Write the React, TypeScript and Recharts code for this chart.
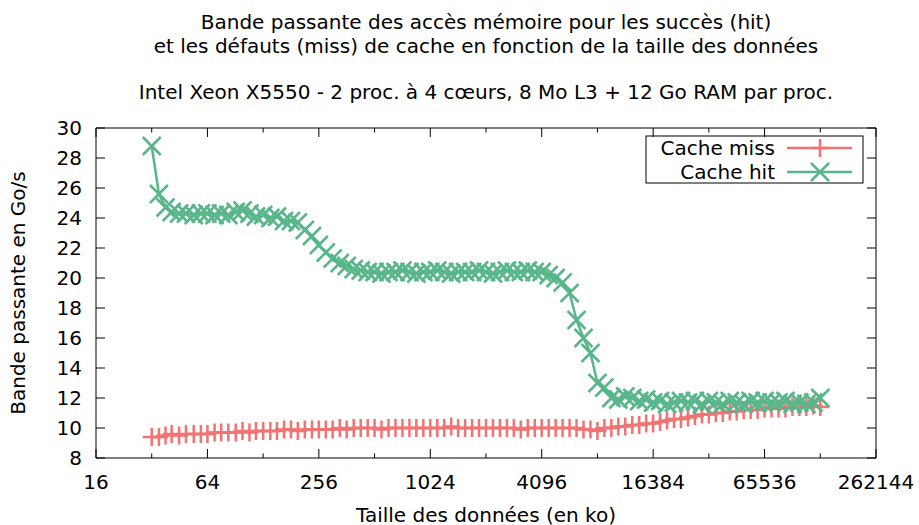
import React from 'react';
import { LineChart, Line, XAxis, YAxis } from 'recharts';

// taille des données en ko
const sizes = [
  32, 35, 38, 41, 45, 49, 54, 59,
  64, 70, 76, 83, 91, 99, 108, 117,
  128, 140, 152, 166, 181, 197, 215, 235,
  256, 279, 304, 332, 362, 395, 431, 470,
  512, 558, 609, 664, 724, 790, 861, 939,
  1024, 1117, 1218, 1328, 1448, 1579, 1722, 1878,
  2048, 2233, 2435, 2656, 2896, 3158, 3444, 3756,
  4096, 4467, 4871, 5312, 5793, 6317, 6889, 7512,
  8192, 8933, 9742, 10624, 11585, 12634, 13777, 15024,
  16384, 17867, 19484, 21247, 23170, 25268, 27554, 30048,
  32768, 35734, 38968, 42495, 46341, 50535, 55109, 60097,
  65536, 71468, 77936, 84990, 92682, 101070, 110218, 120194,
  131072,
];

// Go/s
const cacheHit = [
  28.8, 25.6, 24.7, 24.4, 24.3, 24.3, 24.2, 24.3,
  24.3, 24.2, 24.3, 24.2, 24.4, 24.5, 24.3, 24.1,
  24.2, 24.0, 24.1, 23.8, 23.8, 23.7, 23.2, 22.8,
  22.2, 21.7, 21.3, 21.0, 20.8, 20.6, 20.5, 20.4,
  20.4, 20.3, 20.4, 20.4, 20.5, 20.4, 20.3, 20.4,
  20.4, 20.5, 20.4, 20.3, 20.4, 20.4, 20.4, 20.5,
  20.4, 20.3, 20.4, 20.5, 20.4, 20.4, 20.5, 20.4,
  20.4, 20.2, 20.0, 19.7, 19.0, 17.2, 16.0, 15.0,
  13.0, 12.7, 12.0, 11.9, 12.1, 12.0, 11.8, 11.9,
  11.7, 11.8, 11.6, 11.7, 11.8, 11.7, 11.8, 11.6,
  11.8, 11.7, 11.6, 11.8, 11.7, 11.6, 11.8, 11.7,
  11.8, 11.7, 11.7, 11.8, 11.6, 11.7, 11.6, 11.7,
  12.0,
];

const cacheMiss = [
  9.4, 9.4, 9.5, 9.6, 9.5, 9.6, 9.6, 9.6,
  9.6, 9.7, 9.7, 9.7, 9.7, 9.8, 9.7, 9.8,
  9.8, 9.8, 9.8, 9.9, 9.9, 9.8, 9.9, 9.9,
  9.9, 9.9, 9.9, 10.0, 9.9, 10.0, 10.0, 10.0,
  10.0, 9.9, 10.0, 10.0, 10.0, 10.0, 10.0, 10.0,
  10.0, 10.0, 10.0, 10.1, 10.0, 10.0, 10.0, 10.0,
  10.0, 10.0, 10.0, 10.0, 10.0, 9.9, 10.0, 10.0,
  10.0, 10.0, 10.0, 10.0, 10.0, 10.0, 9.9, 9.9,
  9.8, 10.0, 10.0, 10.1, 10.1, 10.2, 10.2, 10.3,
  10.3, 10.4, 10.5, 10.6, 10.6, 10.7, 10.8, 10.9,
  10.9, 11.0, 11.0, 11.1, 11.1, 11.2, 11.2, 11.2,
  11.3, 11.3, 11.3, 11.3, 11.4, 11.4, 11.4, 11.5,
  11.4,
];

const xTicks = [16, 32, 64, 128, 256, 512, 1024, 2048, 4096, 8192, 16384, 32768, 65536, 131072, 262144];
const xLabels = [16, 64, 256, 1024, 4096, 16384, 65536, 262144];
const yTicks = [8, 10, 12, 14, 16, 18, 20, 22, 24, 26, 28, 30];

const data = sizes.map((s, i) => ({ size: s, hit: cacheHit[i], miss: cacheMiss[i] }));

const FONT = 'DejaVu Sans';
const FS = 20;
const RED = '#f07474';
const GREEN = '#57b68a';

const PlusDot = (p: any) => {
  if (p.cx == null || p.cy == null) return <g key={p.index} />;
  return (
    <path key={p.index} d={`M${p.cx - 9},${p.cy}h18M${p.cx},${p.cy - 9}v18`} stroke={RED} strokeWidth={2.5} fill="none" />
  );
};

const CrossDot = (p: any) => {
  if (p.cx == null || p.cy == null) return <g key={p.index} />;
  const d = 9;
  return (
    <path
      key={p.index}
      d={`M${p.cx - d},${p.cy - d}L${p.cx + d},${p.cy + d}M${p.cx - d},${p.cy + d}L${p.cx + d},${p.cy - d}`}
      stroke={GREEN}
      strokeWidth={2.5}
      fill="none"
    />
  );
};

const BottomTick = (p: any) => {
  const v = p.payload.value;
  const major = xLabels.includes(v);
  return (
    <g>
      <line x1={p.x} x2={p.x} y1={p.y} y2={p.y - (major ? 9 : 4.5)} stroke="#000" />
      {major && (
        <text x={p.x} y={p.y + 31} textAnchor="middle" fontFamily={FONT} fontSize={FS} fill="#000">
          {v}
        </text>
      )}
    </g>
  );
};

const TopTick = (p: any) => {
  const major = xLabels.includes(p.payload.value);
  return <line x1={p.x} x2={p.x} y1={p.y} y2={p.y + (major ? 9 : 4.5)} stroke="#000" />;
};

const LeftTick = (p: any) => (
  <g>
    <line x1={p.x} x2={p.x + 9} y1={p.y} y2={p.y} stroke="#000" />
    <text x={p.x - 14} y={p.y} dy="0.36em" textAnchor="end" fontFamily={FONT} fontSize={FS} fill="#000">
      {p.payload.value}
    </text>
  </g>
);

const RightTick = (p: any) => <line x1={p.x} x2={p.x - 9} y1={p.y} y2={p.y} stroke="#000" />;

const App = () => {
  return (
    <div style={{ position: 'absolute', left: 0, top: 0, width: 919, height: 525, background: '#fff' }}>
      <LineChart width={919} height={525} data={data} margin={{ top: 118, right: 33, bottom: 37, left: 36 }}>
        <XAxis
          xAxisId="b"
          dataKey="size"
          type="number"
          scale="log"
          domain={[16, 262144]}
          allowDataOverflow
          ticks={xTicks}
          interval={0}
          height={30}
          tickSize={0}
          tickMargin={0}
          tickLine={false}
          stroke="#000"
          tick={<BottomTick />}
        />
        <XAxis
          xAxisId="t"
          orientation="top"
          dataKey="size"
          type="number"
          scale="log"
          domain={[16, 262144]}
          allowDataOverflow
          ticks={xTicks}
          interval={0}
          height={10}
          tickSize={0}
          tickMargin={0}
          tickLine={false}
          stroke="#000"
          tick={<TopTick />}
        />
        <YAxis
          yAxisId="l"
          type="number"
          domain={[8, 30]}
          allowDataOverflow
          ticks={yTicks}
          interval={0}
          width={60}
          tickSize={0}
          tickMargin={0}
          tickLine={false}
          stroke="#000"
          tick={<LeftTick />}
        />
        <YAxis
          yAxisId="r"
          orientation="right"
          type="number"
          domain={[8, 30]}
          allowDataOverflow
          ticks={yTicks}
          interval={0}
          width={10}
          tickSize={0}
          tickMargin={0}
          tickLine={false}
          stroke="#000"
          tick={<RightTick />}
        />
        <Line
          xAxisId="b"
          yAxisId="l"
          type="linear"
          dataKey="miss"
          stroke={RED}
          strokeWidth={2.5}
          dot={PlusDot}
          activeDot={false}
          isAnimationActive={false}
        />
        <Line
          xAxisId="b"
          yAxisId="l"
          type="linear"
          dataKey="hit"
          stroke={GREEN}
          strokeWidth={2.5}
          dot={CrossDot}
          activeDot={false}
          isAnimationActive={false}
        />
      </LineChart>
      <svg
        width={919}
        height={525}
        style={{ position: 'absolute', left: 0, top: 0, pointerEvents: 'none' }}
        fontFamily={FONT}
        fontSize={FS}
      >
        <text x={486} y={29} textAnchor="middle">Bande passante des accès mémoire pour les succès (hit)</text>
        <text x={486} y={53} textAnchor="middle">et les défauts (miss) de cache en fonction de la taille des données</text>
        <text x={486} y={99} textAnchor="middle">Intel Xeon X5550 - 2 proc. à 4 cœurs, 8 Mo L3 + 12 Go RAM par proc.</text>
        <text transform="rotate(-90)" x={-293} y={25} textAnchor="middle">Bande passante en Go/s</text>
        <text x={486} y={522} textAnchor="middle">Taille des données (en ko)</text>
        <rect x={646} y={136} width={217} height={47} fill="none" stroke="#000" />
        <text x={775} y={155} textAnchor="end">Cache miss</text>
        <line x1={787} x2={852} y1={148} y2={148} stroke={RED} strokeWidth={2.5} />
        <path d="M811,148h18M820,139v18" stroke={RED} strokeWidth={2.5} />
        <text x={775} y={179} textAnchor="end">Cache hit</text>
        <line x1={787} x2={852} y1={172} y2={172} stroke={GREEN} strokeWidth={2.5} />
        <path d="M811,163L829,181M811,181L829,163" stroke={GREEN} strokeWidth={2.5} />
      </svg>
    </div>
  );
};

export default App;
